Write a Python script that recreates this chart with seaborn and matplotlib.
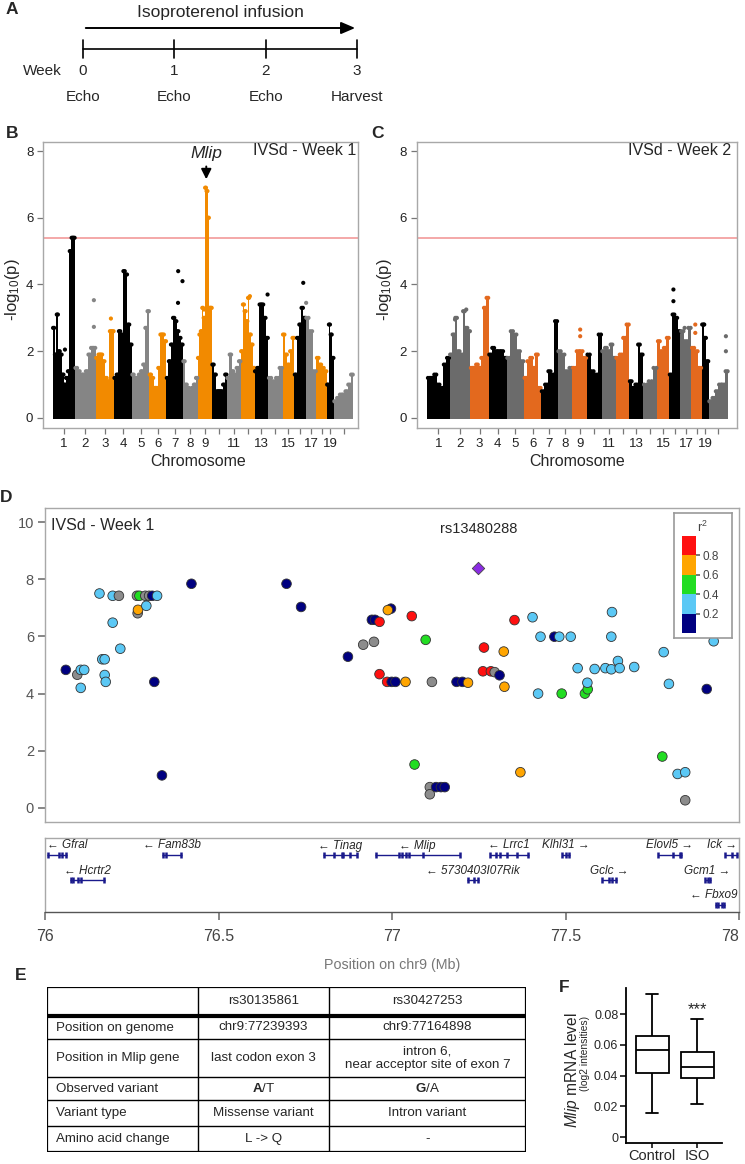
import numpy as np
import pandas as pd
import matplotlib
matplotlib.use("Agg")
import matplotlib.pyplot as plt
import seaborn as sns
from matplotlib.colors import ListedColormap, BoundaryNorm
from matplotlib.cm import ScalarMappable

# ---------------- data ----------------
# A: timeline
weeks = [0, 1, 2, 3]
week_events = ["Echo", "Echo", "Echo", "Harvest"]

# B / C: genome-wide scans (mouse chromosomes, Mb)
chrom_names = [str(i) for i in range(1, 20)] + ["X"]
chrom_len_mb = [195, 182, 160, 157, 152, 150, 145, 129, 125, 131,
                122, 120, 120, 125, 104, 98, 95, 91, 61, 171]
labelled_chroms = ["1", "2", "3", "4", "5", "6", "7", "8", "9",
                   "11", "13", "15", "17", "19"]

# upper edge of the -log10(p) point cloud, read along each chromosome
week1_env = [
    [2.7, 1.9, 3.1, 2.0, 1.9, 1.3, 1.0, 1.2, 1.4, 5.0, 5.4, 5.4],
    [1.5, 1.4, 1.3, 1.3, 1.4, 1.9, 2.1, 2.1],
    [1.8, 1.9, 1.9, 1.7, 1.2, 1.1, 2.6, 2.6],
    [1.2, 1.3, 2.6, 2.5, 4.4, 4.3, 2.8, 2.2],
    [1.3, 1.2, 1.2, 1.3, 1.4, 1.6, 2.7, 3.2],
    [1.3, 1.2, 0.9, 0.9, 1.5, 2.5, 2.5, 2.3],
    [1.2, 1.7, 2.2, 3.0, 2.9, 2.6, 2.4, 2.2],
    [1.7, 1.0, 0.9, 0.8, 0.9, 1.0, 1.2],
    [1.8, 2.5, 2.6, 3.3, 3.0, 6.9, 6.8, 6.0, 3.3, 3.3],
    [1.6, 1.3, 0.8, 0.8, 0.8, 1.0, 1.3],
    [1.2, 1.9, 1.4, 1.3, 1.5, 1.7],
    [2.0, 3.4, 3.2, 2.9, 3.6, 2.5, 2.2, 1.5],
    [1.4, 1.5, 3.4, 3.4, 3.0, 2.4],
    [1.2, 1.1, 1.2, 1.5],
    [2.5, 1.9, 1.6, 2.0, 2.4],
    [1.3, 2.4, 2.8, 3.3, 3.0],
    [3.0, 2.6, 1.4],
    [1.8, 1.6, 1.5, 1.4],
    [1.0, 2.8, 2.5, 1.8],
    [0.5, 0.6, 0.7, 0.7, 0.8, 1.0, 1.3],
]
week1_out_chr = [1, 2, 2, 3, 7, 7, 7, 9, 12, 13, 16, 17]
week1_out_frac = [0.55, 0.91, 0.91, 0.83, 0.70, 0.71, 0.97, 0.44, 0.66, 0.95, 0.79, 0.05]
week1_out_val = [2.05, 3.53, 2.73, 2.98, 3.45, 4.4, 4.1, 3.25, 3.65, 3.7, 4.05, 3.45]

week2_env = [
    [1.2, 1.2, 1.3, 1.0, 0.9, 1.6, 1.8],
    [1.9, 2.5, 3.0, 2.0, 1.9, 3.2, 2.7, 2.6],
    [1.5, 1.5, 1.6, 1.5, 1.8, 3.3, 3.6],
    [1.9, 2.1, 2.0, 2.0, 2.0, 1.8],
    [1.8, 2.6, 2.5, 2.0, 1.7],
    [1.2, 1.7, 1.8, 1.5, 1.9, 0.9],
    [0.8, 1.0, 1.4, 1.3, 2.9],
    [2.0, 1.9, 1.4, 1.5],
    [1.5, 2.0, 2.0, 1.8],
    [1.9, 1.4, 1.3, 2.5],
    [2.0, 2.1, 2.0, 2.2, 1.8],
    [1.8, 1.9, 2.4, 2.8],
    [1.1, 0.9, 1.0, 2.2, 1.9],
    [1.0, 1.1, 1.5],
    [2.3, 2.0, 2.1, 2.4],
    [1.3, 3.1, 3.0, 2.6],
    [2.6, 2.3, 2.7],
    [2.1, 2.0, 1.5],
    [2.8, 2.4, 1.7],
    [0.5, 0.6, 0.8, 1.0, 1.0, 1.4],
]
week2_out_chr = [2, 2, 9, 9, 16, 16, 18, 18, 20, 20, 19, 17]
week2_out_frac = [0.26, 0.80, 0.54, 0.54, 0.37, 0.37, 0.38, 0.38, 0.88, 0.88, 0.36, 0.38]
week2_out_val = [2.95, 3.25, 2.65, 2.45, 3.85, 3.5, 2.8, 2.55, 2.45, 2.0, 2.8, 2.7]

threshold = 5.39
peak_gene = "Mlip"
peak_chrom, peak_frac, peak_val = 9, 0.6, 6.9

# D: regional plot on chr9 (r2 = NaN -> no LD information)
snp_pos = [76.060, 76.093, 76.103, 76.103, 76.113, 76.157, 76.195, 76.213, 76.195, 76.165,
           76.172, 76.172, 76.175, 76.217, 76.267, 76.268, 76.265, 76.272, 76.289, 76.300,
           76.309, 76.323, 76.292, 76.315, 76.337, 76.422, 76.696, 76.738, 76.873, 76.917,
           76.948, 76.942, 76.951, 76.964, 76.997, 76.988, 77.057, 77.097, 76.964, 76.986,
           76.999, 77.010, 77.039, 77.115, 77.186, 77.203, 77.219, 77.265, 77.262, 77.285,
           77.296, 77.310, 77.322, 77.324, 77.353, 77.405, 77.428, 77.421, 77.468, 77.482,
           77.515, 77.489, 77.535, 77.556, 77.564, 77.563, 77.584, 77.615, 77.632, 77.634,
           77.632, 77.651, 77.656, 77.698, 77.783, 77.798, 77.907, 77.927, 77.065, 77.109,
           77.109, 77.127, 77.141, 77.152, 77.370, 77.779, 77.823, 77.845, 77.845]
snp_logp = [4.83, 4.66, 4.20, 4.83, 4.83, 7.50, 7.42, 7.42, 6.48, 5.20,
            5.20, 4.65, 4.41, 5.57, 6.81, 6.93, 7.42, 7.42, 7.42, 7.42,
            7.42, 7.42, 7.07, 4.41, 1.14, 7.84, 7.84, 7.03, 5.29, 5.71,
            5.81, 6.58, 6.58, 6.51, 6.97, 6.92, 6.71, 5.88, 4.68, 4.41,
            4.41, 4.41, 4.41, 4.41, 4.41, 4.41, 4.38, 5.61, 4.78, 4.78,
            4.75, 4.64, 5.47, 4.24, 6.57, 6.67, 5.99, 4.00, 5.99, 5.99,
            5.99, 4.00, 4.89, 4.00, 4.15, 4.38, 4.86, 4.89, 4.85, 6.85,
            5.99, 5.14, 4.89, 4.93, 5.45, 4.34, 4.16, 5.83, 1.52, 0.73,
            0.48, 0.73, 0.73, 0.73, 1.25, 1.80, 1.19, 1.25, 0.27]
nan = np.nan
snp_r2 = [0.1, nan, 0.3, 0.3, 0.3, 0.3, 0.3, nan, 0.3, 0.3,
          0.3, 0.3, 0.3, 0.3, nan, 0.7, nan, 0.5, nan, nan,
          0.1, 0.3, 0.3, 0.1, 0.1, 0.1, 0.1, 0.1, 0.1, nan,
          nan, 0.1, 0.1, 0.9, 0.1, 0.7, 0.9, 0.5, 0.9, 0.9,
          0.1, 0.1, 0.7, nan, 0.1, 0.1, 0.7, 0.9, 0.9, 0.9,
          nan, 0.1, 0.7, 0.7, 0.9, 0.3, 0.3, 0.3, 0.1, 0.3,
          0.3, 0.5, 0.3, 0.5, 0.5, 0.3, 0.3, 0.3, 0.3, 0.3,
          0.3, 0.3, 0.3, 0.3, 0.3, 0.3, 0.1, 0.3, 0.5, nan,
          nan, 0.1, 0.1, 0.1, 0.7, 0.5, 0.3, 0.3, nan]
lead_snp = "rs13480288"
lead_pos, lead_logp = 77.249, 8.40

r2_bounds = [0, 0.2, 0.4, 0.6, 0.8, 1.0]
r2_colors = ["#000080", "#5bc8f5", "#22dd22", "#ffa500", "#ff1010"]

gene_names = ["Gfral", "Fam83b", "Tinag", "Mlip", "Lrrc1", "Klhl31", "Elovl5", "Ick",
              "Hcrtr2", "5730403I07Rik", "Gclc", "Gcm1", "Fbxo9"]
gene_start = [76.007, 76.337, 76.801, 76.951, 77.281, 77.489, 77.766, 77.959,
              76.073, 77.216, 77.604, 77.901, 77.931]
gene_end = [76.062, 76.395, 76.900, 77.196, 77.395, 77.512, 77.835, 77.998,
            76.172, 77.251, 77.649, 77.918, 77.959]
gene_strand = [-1, -1, -1, -1, -1, 1, 1, 1, -1, -1, 1, 1, -1]
gene_row = [0, 0, 0, 0, 0, 0, 0, 0, 1, 1, 1, 1, 2]
gene_exons = [
    [76.010, 76.040, 76.050, 76.060],
    [76.340, 76.350, 76.393],
    [76.803, 76.832, 76.855, 76.860, 76.880, 76.898],
    [76.953, 77.020, 77.030, 77.040, 77.050, 77.090, 77.195],
    [77.283, 77.300, 77.310, 77.330, 77.360, 77.393],
    [77.490, 77.500, 77.510],
    [77.768, 77.810, 77.830, 77.834],
    [77.960, 77.980, 77.995],
    [76.075, 76.080, 76.095, 76.105, 76.170],
    [77.218, 77.235, 77.249],
    [77.606, 77.625, 77.635, 77.645],
    [77.903, 77.910, 77.916],
    [77.933, 77.940, 77.950, 77.957],
]

# E: table
table_header = ["", "rs30135861", "rs30427253"]
table_rows = [
    ["Position on genome", "chr9:77239393", "chr9:77164898"],
    ["Position in Mlip gene", "last codon exon 3", "intron 6,\nnear acceptor site of exon 7"],
    ["Observed variant", r"$\bf{A}$/T", r"$\bf{G}$/A"],
    ["Variant type", "Missense variant", "Intron variant"],
    ["Amino acid change", "L -> Q", "-"],
]

# F: Mlip expression (min, Q1, median, Q3, max)
groups = ["Control", "ISO"]
control_stats = [0.0160, 0.0416, 0.0567, 0.0660, 0.0929]
iso_stats = [0.0216, 0.0387, 0.0456, 0.0554, 0.0766]

# ---------------- style ----------------
sns.set_theme(style="white")
plt.rcParams["font.family"] = ["Liberation Sans", "DejaVu Sans"]
plt.rcParams["mathtext.fontset"] = "custom"
plt.rcParams["mathtext.rm"] = "Liberation Sans"
plt.rcParams["mathtext.it"] = "Liberation Sans:italic"
plt.rcParams["mathtext.bf"] = "Liberation Sans:bold"

W, H = 745, 1164
fig = plt.figure(figsize=(W / 100, H / 100), dpi=100)


def px_axes(x0, y0, x1, y1):
    return fig.add_axes([x0 / W, 1 - y1 / H, (x1 - x0) / W, (y1 - y0) / H])


def ftext(x, y, s, **kw):
    fig.text(x / W, 1 - y / H, s, **kw)


def panel_label(x, y, s):
    ftext(x, y, s, fontsize=12.5, fontweight="bold", ha="center", va="center")


# ---------------- A ----------------
axA = px_axes(0, 0, W, 125)
px_per_week = (357 - 83) / 3
axA.set_xlim(-83 / px_per_week, (W - 83) / px_per_week)
axA.set_ylim(125, 0)
axA.axis("off")
axA.annotate("", xy=(weeks[-1] + 0.01, 28), xytext=(weeks[0], 28),
             arrowprops=dict(arrowstyle="-|>,head_length=0.7,head_width=0.3",
                             color="black", lw=1.4))
axA.text(np.mean(weeks), 13, "Isoproterenol infusion", ha="center", va="center", fontsize=12.5)
axA.plot([weeks[0], weeks[-1]], [49, 49], color="black", lw=1.2)
for w, ev in zip(weeks, week_events):
    axA.plot([w, w], [40, 58], color="black", lw=1.2)
    axA.text(w, 71, str(w), ha="center", va="center", fontsize=11)
    axA.text(w, 97, ev, ha="center", va="center", fontsize=11)
axA.text(-(83 - 42) / px_per_week, 71, "Week", ha="center", va="center", fontsize=11)
panel_label(12, 10, "A")

# ---------------- B / C ----------------
starts = np.concatenate([[0], np.cumsum(chrom_len_mb)[:-1]])
centers = starts + np.array(chrom_len_mb) / 2
genome_len = float(np.sum(chrom_len_mb))


def manhattan(ax, env, out_chr, out_frac, out_val, cols, pad_l, pad_r, title, title_x):
    tops = []
    for i, (s, L, e) in enumerate(zip(starts, chrom_len_mb, env)):
        n = len(e)
        edges = s + np.arange(n + 1) / n * L
        col = cols[i % 3]
        ax.stairs(e, edges, baseline=-0.03, fill=True, color=col, lw=0, zorder=2)
        for k, y in enumerate(e):
            for f in (0.2, 0.8):
                tops.append((edges[k] + f * (edges[k + 1] - edges[k]), y, col))
    for c, f, v in zip(out_chr, out_frac, out_val):
        tops.append((starts[c - 1] + f * chrom_len_mb[c - 1], v, cols[(c - 1) % 3]))
    df = pd.DataFrame(tops, columns=["pos", "logp", "col"])
    sns.scatterplot(data=df, x="pos", y="logp", hue="col", palette={c: c for c in cols},
                    s=9, linewidth=0, legend=False, ax=ax, zorder=3)
    ax.axhline(threshold, color="#f29a9a", lw=1.2, zorder=1)
    ax.set_xlim(-pad_l, genome_len + pad_r)
    ax.set_ylim(-0.3, 8.27)
    ax.set_yticks([0, 2, 4, 6, 8])
    ax.set_xticks(centers)
    ax.set_xticklabels([n if n in labelled_chroms else "" for n in chrom_names])
    ax.set_xlabel("")
    ax.set_ylabel("")
    ax.tick_params(axis="both", which="both", direction="out", color="#777777",
                   length=4.5, width=0.9, labelsize=9.5, labelcolor="#222222", pad=2.5,
                   left=True, bottom=True)
    for sp in ax.spines.values():
        sp.set_color("#a8a8a8")
        sp.set_linewidth(1.0)
    ax.text(title_x, 0.969, title, transform=ax.transAxes, ha="right", va="center",
            fontsize=11.5)


axB = px_axes(43, 142, 358, 428)
manhattan(axB, week1_env, week1_out_chr, week1_out_frac, week1_out_val,
          ["#000000", "#858585", "#f28a00"], 85, 41, "IVSd - Week 1", 0.994)
mx = starts[peak_chrom - 1] + peak_frac * chrom_len_mb[peak_chrom - 1]
axB.annotate("", xy=(mx, 7.07), xytext=(mx, 7.62),
             arrowprops=dict(arrowstyle="-|>,head_length=0.5,head_width=0.25",
                             color="black", lw=1.4))
axB.text(mx, 7.92, peak_gene, ha="center", va="center", fontsize=12.5, style="italic")

axC = px_axes(416.7, 142, 736.7, 428)
manhattan(axC, week2_env, week2_out_chr, week2_out_frac, week2_out_val,
          ["#000000", "#6b6b6b", "#e3691e"], 93, 74, "IVSd - Week 2", 0.984)

for lx in (13, 385):
    ftext(lx, 290, r"-log$_{10}$(p)", rotation=90, ha="center", va="center", fontsize=12)
ftext(198, 462, "Chromosome", ha="center", va="center", fontsize=11.5)
ftext(577, 462, "Chromosome", ha="center", va="center", fontsize=11.5)
panel_label(12, 133, "B")
panel_label(378, 133, "C")

# ---------------- D ----------------
axD = px_axes(45, 508, 739, 822)
r2_cmap = ListedColormap(r2_colors)
r2_norm = BoundaryNorm(r2_bounds, r2_cmap.N)
snp = pd.DataFrame({"pos": snp_pos, "logp": snp_logp, "r2": snp_r2})
snp["col"] = [("#8c8c8c" if np.isnan(r) else matplotlib.colors.to_hex(r2_cmap(r2_norm(r))))
              for r in snp["r2"]]
pal = {c: c for c in snp["col"].unique()}
sns.scatterplot(data=snp, x="pos", y="logp", hue="col", palette=pal, s=48,
                edgecolor="#333333", linewidth=0.6, legend=False, ax=axD, zorder=3)
axD.scatter([lead_pos], [lead_logp], marker="D", s=40, color="#8a2be2",
            edgecolor="#444444", linewidth=0.6, zorder=4)
axD.text(lead_pos, 9.76, lead_snp, ha="center", va="center", fontsize=10.5)
axD.text(0.008, 0.945, "IVSd - Week 1", transform=axD.transAxes, ha="left", va="center",
         fontsize=11.5)
axD.set_xlim(76, 78)
axD.set_ylim(-0.49, 10.49)
axD.set_xticks([])
axD.set_yticks([0, 2, 4, 6, 8, 10])
axD.set_xlabel("")
axD.set_ylabel("")
axD.tick_params(axis="y", direction="out", left=True, length=5, color="#777777",
                labelsize=10.5, labelcolor="#555555", pad=3)
for sp in axD.spines.values():
    sp.set_color("#a8a8a8")
    sp.set_linewidth(1.0)
panel_label(6, 498, "D")

# r2 legend
axL = px_axes(674, 513, 732, 638)
axL.set_xticks([])
axL.set_yticks([])
axL.set_facecolor("white")
for sp in axL.spines.values():
    sp.set_color("#999999")
    sp.set_linewidth(1.2)
cax = px_axes(682, 536, 696, 633)
cb = fig.colorbar(ScalarMappable(norm=r2_norm, cmap=r2_cmap), cax=cax,
                  ticks=[0.2, 0.4, 0.6, 0.8])
cb.outline.set_visible(False)
cb.ax.minorticks_off()
cb.ax.set_yticks([0.2, 0.4, 0.6, 0.8])
cb.ax.set_yticklabels(["0.2", "0.4", "0.6", "0.8"])
cb.ax.tick_params(axis="y", which="both", left=False, right=True, labelsize=8.5,
                  labelcolor="#444444", length=3, color="#666666", pad=2)
ftext(702, 527, r"r$^2$", ha="center", va="center", fontsize=9, color="#444444")

# gene track
axG = px_axes(45, 838, 739, 912)
axG.set_xlim(76, 78)
axG.set_ylim(2.96, 0)
for name, s, e, strand, row, exons in zip(gene_names, gene_start, gene_end,
                                          gene_strand, gene_row, gene_exons):
    gy = row + 0.68
    axG.plot([s, e], [gy, gy], color="#1a1a8c", lw=1.0, solid_capstyle="butt")
    axG.plot(exons, [gy] * len(exons), ls="none", marker="|", ms=5, mew=1.8,
             color="#1a1a8c")
    label = "\u2190 " + name if strand < 0 else name + " \u2192"
    if s < 76.05:
        lx, ha = s, "left"
    elif e > 77.93:
        lx, ha = 77.995, "right"
    else:
        lx, ha = (s + e) / 2, "center"
    axG.text(lx, row + 0.30, label, ha=ha, va="center", fontsize=8.5, style="italic")
axG.set_yticks([])
axG.set_xticks([76, 76.5, 77, 77.5, 78])
axG.set_xticklabels(["76", "76.5", "77", "77.5", "78"])
axG.tick_params(axis="x", direction="out", bottom=True, length=6, color="#777777",
                labelsize=11.5, labelcolor="#444444", pad=6)
axG.get_xticklabels()[-1].set_horizontalalignment("right")
for k, sp in axG.spines.items():
    sp.set_color("#a8a8a8" if k != "bottom" else "#555555")
    sp.set_linewidth(1.0)
ftext(392, 965, "Position on chr9 (Mb)", ha="center", va="center", fontsize=10.3,
      color="#777777")

# ---------------- E ----------------
axE = px_axes(47, 987, 526, 1152)
axE.set_xlim(47, 526)
axE.set_ylim(1152, 987)
axE.axis("off")
col_edges = [47, 198, 329, 526]
row_edges = [987, 1016, 1039, 1077, 1100, 1126, 1152]
for y in row_edges[2:-1]:
    axE.plot([col_edges[0], col_edges[-1]], [y, y], color="black", lw=1.0)
axE.plot([col_edges[0], col_edges[-1]], [row_edges[1], row_edges[1]], color="black", lw=3.0)
for x in col_edges[1:-1]:
    axE.plot([x, x], [row_edges[0], row_edges[-1]], color="black", lw=1.0)
axE.plot([col_edges[0], col_edges[-1], col_edges[-1], col_edges[0], col_edges[0]],
         [row_edges[0], row_edges[0], row_edges[-1], row_edges[-1], row_edges[0]],
         color="black", lw=1.6)
all_rows = [table_header] + table_rows
for r, cells in enumerate(all_rows):
    yc = (row_edges[r] + row_edges[r + 1]) / 2
    for c, txt in enumerate(cells):
        if c == 0:
            axE.text(col_edges[0] + 9, yc, txt, ha="left", va="center", fontsize=9.6)
        else:
            axE.text((col_edges[c] + col_edges[c + 1]) / 2, yc, txt, ha="center",
                     va="center", fontsize=9.6, linespacing=1.15)
panel_label(21, 975, "E")

# ---------------- F ----------------
axF = px_axes(626, 988, 722, 1142.7)
box_df = pd.DataFrame({"group": [groups[0]] * 5 + [groups[1]] * 5,
                       "level": control_stats + iso_stats})
sns.boxplot(data=box_df, x="group", y="level", order=groups, ax=axF, whis=(0, 100),
            width=0.73, color="white", linecolor="black", linewidth=1.3,
            capwidths=0.27)
axF.set_xlim(-0.584, 1.549)
axF.set_ylim(-0.0035, 0.0969)
axF.set_yticks([0, 0.02, 0.04, 0.06, 0.08])
axF.set_yticklabels(["0", "0.02", "0.04", "0.06", "0.08"])
axF.set_xlabel("")
axF.set_ylabel("")
sns.despine(ax=axF)
for k in ["left", "bottom"]:
    axF.spines[k].set_color("black")
    axF.spines[k].set_linewidth(1.3)
axF.tick_params(axis="y", direction="out", left=True, length=4, width=1.1, color="black",
                labelsize=9, pad=1.5)
axF.tick_params(axis="x", direction="out", bottom=True, length=3.5, width=1.1, color="black",
                labelsize=10.5, pad=1)
axF.text(1, 0.0826, "***", ha="center", va="center", fontsize=12)
ftext(572, 1070, r"$\it{Mlip}$ mRNA level", rotation=90, ha="center", va="center",
      fontsize=11.2)
ftext(584.5, 1053, "(log2 intensities)", rotation=90, ha="center", va="center",
      fontsize=7.4)
panel_label(564, 987, "F")

fig.savefig("out.png", dpi=100)
